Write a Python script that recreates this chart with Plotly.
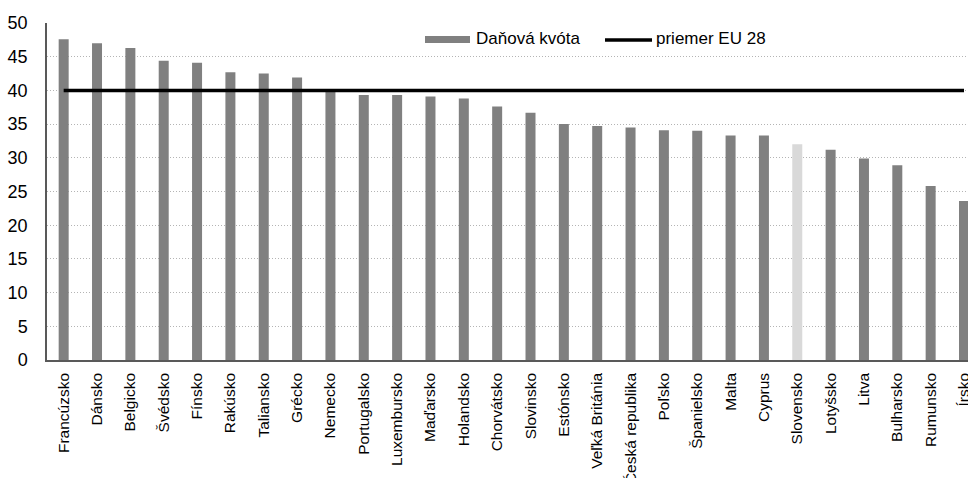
import plotly.graph_objects as go

# Tax-to-GDP ratio by EU member state (% of GDP) and the EU 28 average
countries = [
    "Francúzsko", "Dánsko", "Belgicko", "Švédsko", "Fínsko", "Rakúsko",
    "Taliansko", "Grécko", "Nemecko", "Portugalsko", "Luxembursko",
    "Maďarsko", "Holandsko", "Chorvátsko", "Slovinsko", "Estónsko",
    "Veľká Británia", "Česká republika", "Poľsko", "Španielsko", "Malta",
    "Cyprus", "Slovensko", "Lotyšsko", "Litva", "Bulharsko", "Rumunsko",
    "Írsko",
]
tax_ratio = [
    47.6, 47.0, 46.3, 44.4, 44.1, 42.7, 42.5, 41.9, 39.9, 39.3, 39.3,
    39.1, 38.8, 37.6, 36.7, 35.0, 34.7, 34.5, 34.1, 34.0, 33.3, 33.3,
    32.0, 31.2, 29.9, 28.9, 25.8, 23.6,
]
eu_average = [40.0] * len(countries)

highlight = "Slovensko"
bar_colors = ["#d9d9d9" if c == highlight else "#808080" for c in countries]

FONT = "Liberation Sans, Arial, sans-serif"

fig = go.Figure()
fig.add_trace(go.Bar(
    x=countries, y=tax_ratio, name="Daňová kvóta",
    marker=dict(color=bar_colors, line=dict(width=0)),
    width=0.3, showlegend=False,
))
fig.add_trace(go.Scatter(
    x=countries, y=eu_average, name="priemer EU 28", mode="lines",
    line=dict(color="#000000", width=3.5), showlegend=False,
))

# Legend drawn as swatches + labels above the plot area
fig.add_shape(type="rect", xref="paper", yref="paper",
              x0=(425 - 47) / 921, x1=(470 - 47) / 921,
              y0=(360 - 43) / 337, y1=(360 - 36) / 337,
              fillcolor="#808080", line=dict(width=0))
fig.add_annotation(text="Daňová kvóta", xref="paper", yref="paper",
                   x=(474 - 47) / 921, y=(360 - 39) / 337,
                   xanchor="left", yanchor="middle", showarrow=False,
                   font=dict(family=FONT, size=17, color="#000000"))
fig.add_shape(type="line", xref="paper", yref="paper",
              x0=(605 - 47) / 921, x1=(652 - 47) / 921,
              y0=(360 - 40) / 337, y1=(360 - 40) / 337,
              line=dict(color="#000000", width=3.5))
fig.add_annotation(text="priemer EU 28", xref="paper", yref="paper",
                   x=(654 - 47) / 921, y=(360 - 39) / 337,
                   xanchor="left", yanchor="middle", showarrow=False,
                   font=dict(family=FONT, size=17, color="#000000"))

fig.update_layout(
    width=968, height=478,
    margin=dict(l=47, r=0, t=23, b=118),
    paper_bgcolor="#ffffff", plot_bgcolor="#ffffff",
    font=dict(family=FONT, color="#000000"),
    bargap=0.7,
)
fig.update_xaxes(
    range=[-0.5, 27.12], tickangle=-90, automargin=False,
    tickfont=dict(family=FONT, size=15.5, color="#000000"),
    showline=True, linecolor="#595959", linewidth=1.5,
    showgrid=False, ticks="", ticklabelstandoff=5,
)
fig.update_yaxes(
    range=[0, 50], dtick=5, tick0=0, automargin=False,
    tickfont=dict(family=FONT, size=18, color="#000000"),
    showline=True, linecolor="#595959", linewidth=1.5,
    showgrid=True, gridcolor="#b4b4b4", gridwidth=1, griddash="1px,2px",
    zeroline=False, ticks="", ticklabelstandoff=14,
)

fig.write_html("out.html")
